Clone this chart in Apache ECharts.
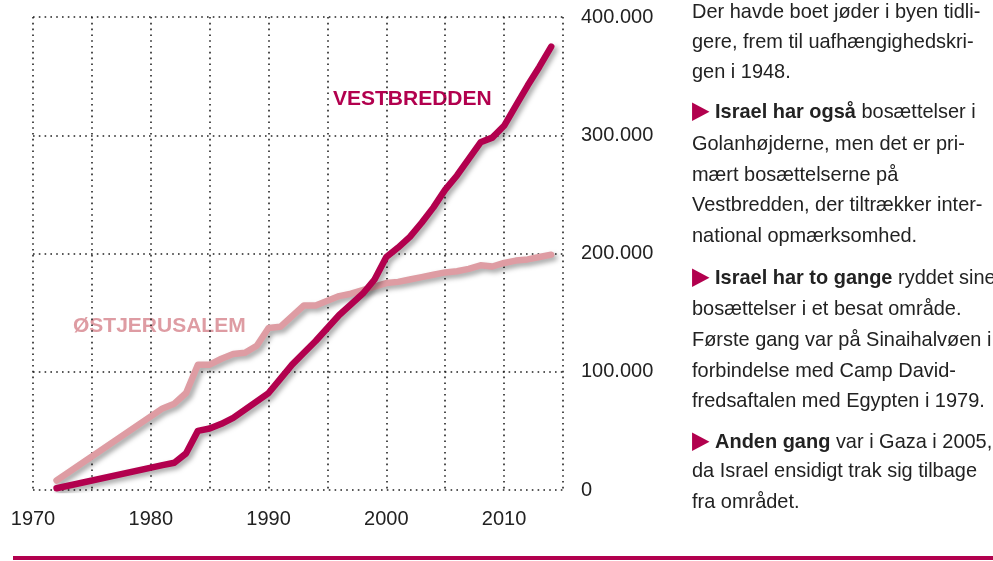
<!DOCTYPE html>
<html>
<head>
<meta charset="utf-8">
<script src="https://cdn.jsdelivr.net/npm/echarts@6/dist/echarts.min.js"></script>
<style>
  html, body { margin: 0; padding: 0; background: #fff; }
  #chart { width: 993px; height: 561px; }
</style>
</head>
<body>
<div id="chart"></div>
<script>
// år og antal bosættere (læst af figuren)
const years = [1972, 1981, 1982, 1983, 1984, 1985, 1986, 1987, 1988, 1989, 1990,
  1991, 1992, 1993, 1994, 1995, 1996, 1997, 1998, 1999, 2000,
  2001, 2002, 2003, 2004, 2005, 2006, 2007, 2008, 2009, 2010,
  2011, 2012, 2013, 2014];

const vestbredden = [1500, 21000, 23000, 31000, 50000, 52000, 56000, 61000, 68000, 75000, 82000,
  94000, 106000, 116000, 126000, 137000, 148000, 157000, 166000, 178000, 197000,
  205000, 214000, 226000, 239000, 254000, 266000, 280000, 294000, 298000, 308000,
  325000, 342000, 358000, 375000];

const ostjerusalem = [8000, 69000, 73000, 82000, 106000, 106000, 111000, 115000, 116000, 122000, 137000,
  138000, 147000, 156000, 156000, 160000, 164000, 166000, 169000, 172000, 175000,
  176000, 178000, 180000, 182000, 184000, 185000, 187000, 190000, 189000, 192000,
  194000, 195000, 197000, 199000];

const yTicks = [0, 100000, 200000, 300000, 400000];

const textLines = [
  'Der havde boet jøder i byen tidli-',
  'gere, frem til uafhængighedskri-',
  'gen i 1948.',
  '{t|▶} {b|Israel har også} bosættelser i',
  'Golanhøjderne, men det er pri-',
  'mært bosættelserne på',
  'Vestbredden, der tiltrækker inter-',
  'national opmærksomhed.',
  '{t|▶} {b|Israel har to gange} ryddet sine',
  'bosættelser i et besat område.',
  'Første gang var på Sinaihalvøen i',
  'forbindelse med Camp David-',
  'fredsaftalen med Egypten i 1979.',
  '{t|▶} {b|Anden gang} var i Gaza i 2005,',
  'da Israel ensidigt trak sig tilbage',
  'fra området.'
];
const lineY = [14, 44, 74, 112, 146, 177, 207, 238, 278, 311, 342, 373, 403, 442, 473, 504];

const DARK = '#b2004e';
const LIGHT = '#de9ca3';
const FONT = '"Liberation Sans", Arial, sans-serif';

let myChart = echarts.init(document.getElementById('chart'));

const dotted = { color: '#222', width: 1.6, type: [1.6, 4.2] };
const shadow = { shadowColor: 'rgba(0,0,0,0.35)', shadowBlur: 5, shadowOffsetX: 3, shadowOffsetY: 3 };

let graphics = textLines.map(function (t, i) {
  return {
    type: 'text', x: 692, y: lineY[i] - 12, scaleX: 0.95,
    style: {
      text: t, fill: '#222', font: '21px ' + FONT,
      rich: {
        t: { fill: DARK, fontSize: 24, fontFamily: 'DejaVu Sans' },
        b: { fill: '#222', fontSize: 21, fontWeight: 'bold', fontFamily: FONT }
      }
    }
  };
});
graphics.push(
  { type: 'text', left: 333, top: 89,
    style: { text: 'VESTBREDDEN', fill: DARK, font: 'bold 21px "Liberation Sans", sans-serif' } },
  { type: 'text', left: 73, top: 316,
    style: { text: 'ØSTJERUSALEM', fill: LIGHT, font: 'bold 21px "Liberation Sans", sans-serif' } },
  { type: 'line', shape: { x1: 13, y1: 558, x2: 993, y2: 558 },
    style: { stroke: DARK, lineWidth: 4 } }
);

myChart.setOption({
  animation: false,
  grid: { left: 33, right: 430, top: 17, bottom: 71 },
  xAxis: {
    type: 'value', min: 1970, max: 2015, interval: 5,
    axisLine: { show: false }, axisTick: { show: false },
    splitLine: { show: true, lineStyle: dotted },
    axisLabel: {
      margin: 19, color: '#222', fontSize: 20, fontFamily: FONT,
      formatter: function (v) { return v % 10 === 0 && v < 2015 ? String(v) : ''; }
    }
  },
  yAxis: {
    type: 'value', position: 'right', min: 0, max: 400000, interval: 100000,
    axisLine: { show: false }, axisTick: { show: false },
    splitLine: { show: true, lineStyle: dotted },
    axisLabel: {
      margin: 18, color: '#222', fontSize: 20, fontFamily: FONT, align: 'left',
      formatter: function (v) {
        return yTicks.indexOf(v) < 0 ? '' : (v === 0 ? '0' : (v / 1000) + '.000');
      }
    }
  },
  series: [
    {
      name: 'Østjerusalem', type: 'line', symbol: 'none',
      data: years.map(function (y, i) { return [y, ostjerusalem[i]]; }),
      lineStyle: Object.assign({ color: LIGHT, width: 6.5, join: 'round', cap: 'round' }, shadow)
    },
    {
      name: 'Vestbredden', type: 'line', symbol: 'none',
      data: years.map(function (y, i) { return [y, vestbredden[i]]; }),
      lineStyle: Object.assign({ color: DARK, width: 6.5, join: 'round', cap: 'round' }, shadow)
    }
  ],
  graphic: graphics
});
</script>
</body>
</html>
